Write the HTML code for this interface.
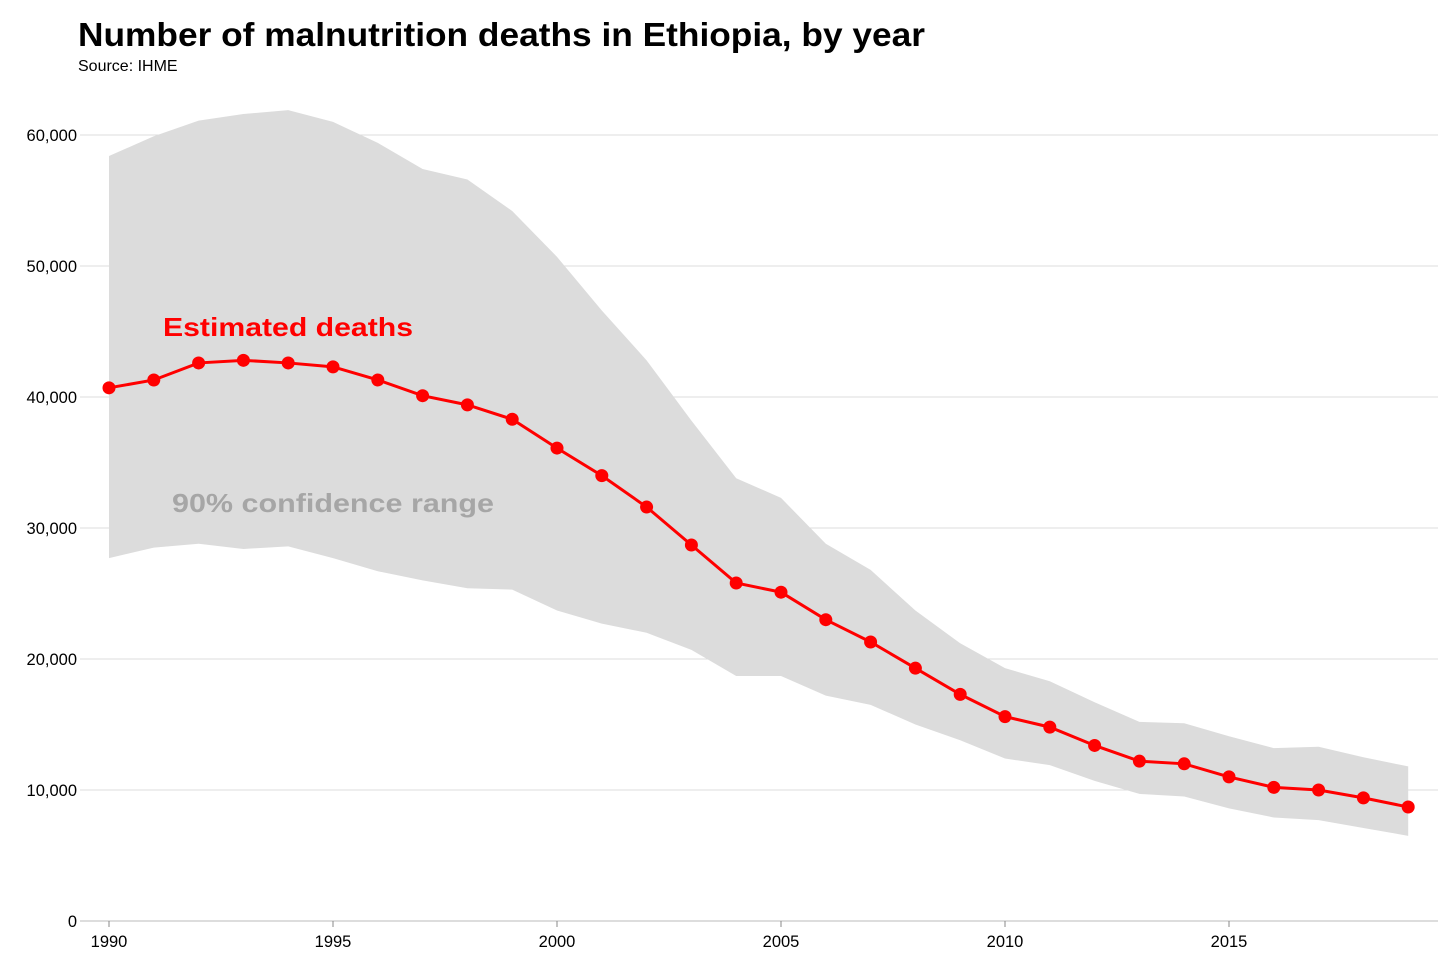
<!DOCTYPE html>
<html><head><meta charset="utf-8"><style>
body{margin:0;background:#fff;font-family:"Liberation Sans",sans-serif;}
svg text{font-family:"Liberation Sans",sans-serif;}
</style></head><body>
<svg width="1456" height="970" id="c">
<text x="78" y="46" font-size="33" font-weight="bold" fill="#000" textLength="847" lengthAdjust="spacingAndGlyphs">Number of malnutrition deaths in Ethiopia, by year</text>
<text x="78" y="71" font-size="16" fill="#000">Source: IHME</text>
<g id="grid"></g><g id="band"></g><g id="line"></g><g id="ticks"></g>
<text x="163" y="336" font-size="26" font-weight="bold" fill="#ff0000" textLength="250" lengthAdjust="spacingAndGlyphs">Estimated deaths</text>
<text x="172" y="512" font-size="26" font-weight="bold" fill="#a6a6a6" textLength="322" lengthAdjust="spacingAndGlyphs">90% confidence range</text>
</svg>
<script>
const years=[];for(let y=1990;y<=2019;y++)years.push(y);
const est=[40700,41300,42600,42800,42600,42300,41300,40100,39400,38300,36100,34000,31600,28700,25800,25100,23000,21300,19300,17300,15600,14800,13400,12200,12000,11000,10200,10000,9400,8700];
const upper=[58400,59900,61100,61600,61900,61000,59400,57400,56600,54200,50700,46600,42800,38200,33800,32300,28800,26800,23700,21200,19300,18300,16700,15200,15100,14100,13200,13300,12500,11800];
const lower=[27700,28500,28800,28400,28600,27700,26700,26000,25400,25300,23700,22700,22000,20700,18700,18700,17200,16500,15000,13800,12400,11900,10700,9700,9500,8600,7900,7700,7100,6500];
const yTicks=[0,10000,20000,30000,40000,50000,60000];
const xTicks=[1990,1995,2000,2005,2010,2015];
const X=y=>109+(y-1990)*44.8, Y=v=>921-v*131/10000;
const NS="http://www.w3.org/2000/svg";
function mk(t,a,p){const e=document.createElementNS(NS,t);for(const k in a)e.setAttribute(k,a[k]);document.getElementById(p).appendChild(e);return e;}
yTicks.forEach(v=>{
 const l=mk('line',{x1:80,x2:1438,y1:Y(v),y2:Y(v),stroke:v?'#dddddd':'#bbbbbb','stroke-width':1},'grid');
 
 
 const t=mk('text',{x:77,y:Y(v)+6,'text-anchor':'end','font-size':16.5,fill:'#000'},'ticks');
 t.textContent=v.toLocaleString('en-US');
 
 
});
xTicks.forEach(v=>{
 const l=mk('line',{x1:X(v),x2:X(v),y1:921,y2:927,stroke:'#888'},'ticks');
 
 
 const t=mk('text',{x:X(v),y:947,'text-anchor':'middle','font-size':16.5,fill:'#000'},'ticks');
 t.textContent=v;
 
 
});
let d=years.map((y,i)=>(i?'L':'M')+X(y)+','+Y(upper[i])).join('');
for(let i=years.length-1;i>=0;i--)d+='L'+X(years[i])+','+Y(lower[i]);
const b=mk('path',{d:d+'Z',fill:'#dcdcdc'},'band');


const p=mk('path',{d:years.map((y,i)=>(i?'L':'M')+X(y)+','+Y(est[i])).join(''),fill:'none',stroke:'#ff0000','stroke-width':3},'line');


years.forEach((y,i)=>{
 const c=mk('circle',{cx:X(y),cy:Y(est[i]),r:6.5,fill:'#ff0000'},'line');
 
 
});
</script>
</body></html>
